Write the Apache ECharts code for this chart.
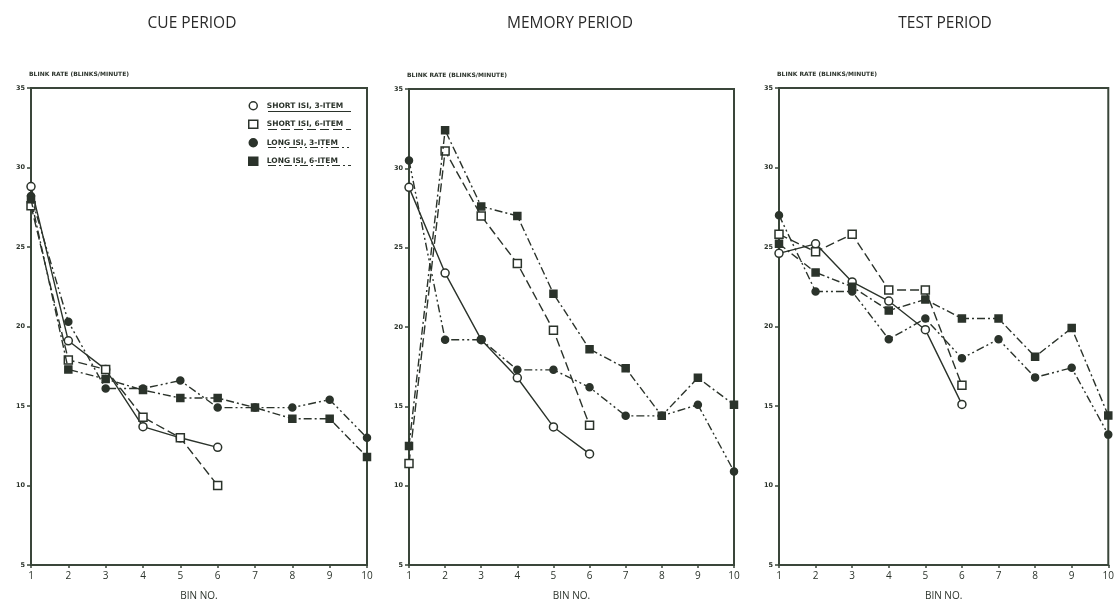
<!DOCTYPE html>
<html>
<head>
<meta charset="utf-8">
<script src="https://cdn.jsdelivr.net/npm/echarts@6/dist/echarts.min.js"></script>
<style>
  html, body { margin: 0; padding: 0; background: #fff; }
  #chart { width: 1117px; height: 606px; }
</style>
</head>
<body>
<div id="chart"></div>
<script>
// Blink rate per bin for each condition, one array per period
const bins = [1, 2, 3, 4, 5, 6, 7, 8, 9, 10];
const periods = ['CUE PERIOD', 'MEMORY PERIOD', 'TEST PERIOD'];
const seriesNames = ['SHORT ISI, 3-ITEM', 'SHORT ISI, 6-ITEM', 'LONG ISI, 3-ITEM', 'LONG ISI, 6-ITEM'];
const yTicks = [5, 10, 15, 20, 25, 30, 35];

// Cue period
const cueShort3 = [28.8, 19.1, 17.3, 13.7, 13.0, 12.4];
const cueShort6 = [27.6, 17.9, 17.3, 14.3, 13.0, 10.0];
const cueLong3  = [28.2, 20.3, 16.1, 16.1, 16.6, 14.9, 14.9, 14.9, 15.4, 13.0];
const cueLong6  = [28.0, 17.3, 16.7, 16.0, 15.5, 15.5, 14.9, 14.2, 14.2, 11.8];

// Memory period
const memShort3 = [28.8, 23.4, 19.2, 16.8, 13.7, 12.0];
const memShort6 = [11.4, 31.1, 27.0, 24.0, 19.8, 13.8];
const memLong3  = [30.5, 19.2, 19.2, 17.3, 17.3, 16.2, 14.4, 14.4, 15.1, 10.9];
const memLong6  = [12.5, 32.4, 27.6, 27.0, 22.1, 18.6, 17.4, 14.4, 16.8, 15.1];

// Test period
const testShort3 = [24.6, 25.2, 22.8, 21.6, 19.8, 15.1];
const testShort6 = [25.8, 24.7, 25.8, 22.3, 22.3, 16.3];
const testLong3  = [27.0, 22.2, 22.2, 19.2, 20.5, 18.0, 19.2, 16.8, 17.4, 13.2];
const testLong6  = [25.2, 23.4, 22.5, 21.0, 21.7, 20.5, 20.5, 18.1, 19.9, 14.4];

const panelData = [
  [cueShort3, cueShort6, cueLong3, cueLong6],
  [memShort3, memShort6, memLong3, memLong6],
  [testShort3, testShort6, testLong3, testLong6]
];

const ink = '#2b332b';
const axisInk = '#3a463a';
const smallFont = 'DejaVu Sans';
const titleFont = 'Open Sans';

// Marker shape, fill and dash pattern for each condition
const styles = [
  { symbol: 'circle', size: 8, dash: 'solid', fill: '#fff' },
  { symbol: 'rect',   size: 8, dash: [9, 4], fill: '#fff' },
  { symbol: 'circle', size: 7, dash: [8, 3, 2, 3, 2, 3], fill: ink },
  { symbol: 'rect',   size: 7, dash: [8, 3, 2, 3], fill: ink }
];

const grids = [
  { left: 31,  top: 88, width: 336, height: 477 },
  { left: 409, top: 89, width: 325, height: 478 },
  { left: 779, top: 88, width: 333, height: 479 }
];

const chart = echarts.init(document.getElementById('chart'));

const xAxes = grids.map((g, i) => ({
  type: 'value', gridIndex: i, min: 1, max: 10, interval: 1,
  name: 'BIN NO.', nameLocation: 'middle', nameGap: 26,
  nameTextStyle: { fontFamily: titleFont, fontSize: 10, color: ink },
  axisLine: { lineStyle: { color: axisInk, width: 2 } },
  axisTick: { show: true, length: 3, inside: false, lineStyle: { color: axisInk, width: 1.5 } },
  axisLabel: { fontFamily: titleFont, fontSize: 10, color: ink, margin: 6 },
  splitLine: { show: false }
}));

const yAxes = grids.map((g, i) => ({
  type: 'value', gridIndex: i, min: yTicks[0], max: yTicks[yTicks.length - 1], interval: 5,
  name: 'BLINK RATE (BLINKS/MINUTE)', nameLocation: 'end', nameGap: 11,
  nameTextStyle: { fontFamily: smallFont, fontSize: 6, fontWeight: 'bold', color: ink, align: 'left', padding: [0, 0, 0, -2] },
  axisLine: { lineStyle: { color: axisInk, width: 2 } },
  axisTick: { show: true, length: 4, lineStyle: { color: axisInk, width: 1.5 } },
  axisLabel: { fontFamily: smallFont, fontSize: 6.5, fontWeight: 'bold', color: ink, margin: 6 },
  splitLine: { show: false }
}));

const series = [];
panelData.forEach((group, p) => {
  group.forEach((vals, k) => {
    const st = styles[k];
    series.push({
      name: seriesNames[k],
      type: 'line',
      xAxisIndex: p, yAxisIndex: p,
      data: vals.map((v, j) => [bins[j], v]),
      symbol: st.symbol,
      symbolSize: st.size,
      showSymbol: true,
      z: 3 + k,
      lineStyle: { color: ink, width: 1.4, type: st.dash },
      itemStyle: { color: st.fill, borderColor: ink, borderWidth: 1.5 },
      emphasis: { disabled: true },
      animation: false
    });
  });
});

// Underline rules beneath the legend entries, drawn in each series' dash
const legendTop = 101, legendRow = 18, ulLeft = 268, ulRight = 351;
const underlines = styles.map((st, k) => ({
  type: 'line',
  shape: { x1: ulLeft, y1: legendTop + 10.5 + k * legendRow, x2: ulRight, y2: legendTop + 10.5 + k * legendRow },
  style: { stroke: ink, lineWidth: 1.2, lineDash: st.dash === 'solid' ? null : st.dash }
}));

chart.setOption({
  backgroundColor: '#fff',
  animation: false,
  title: periods.map((t, i) => ({
    text: t,
    left: [187, 565, 940][i], top: 11, textAlign: 'center',
    textStyle: { fontFamily: titleFont, fontSize: 15.5, fontWeight: 'normal', color: '#2a2a2a' }
  })),
  grid: grids.map(g => Object.assign({ show: true, borderColor: axisInk, borderWidth: 2, backgroundColor: 'transparent' }, g)),
  xAxis: xAxes,
  yAxis: yAxes,
  legend: {
    orient: 'vertical', left: 248, top: legendTop, padding: 0, itemGap: 9,
    itemWidth: 9, itemHeight: 8, selectedMode: false,
    textStyle: { fontFamily: smallFont, fontSize: 7.5, lineHeight: 9, fontWeight: 'bold', color: ink, padding: [0, 0, 0, 4] },
    data: seriesNames.map((n, k) => ({
      name: n,
      icon: styles[k].symbol,
      itemStyle: { color: styles[k].fill, borderColor: ink, borderWidth: 1.5 }
    }))
  },
  graphic: underlines,
  series: series
});
</script>
</body>
</html>
